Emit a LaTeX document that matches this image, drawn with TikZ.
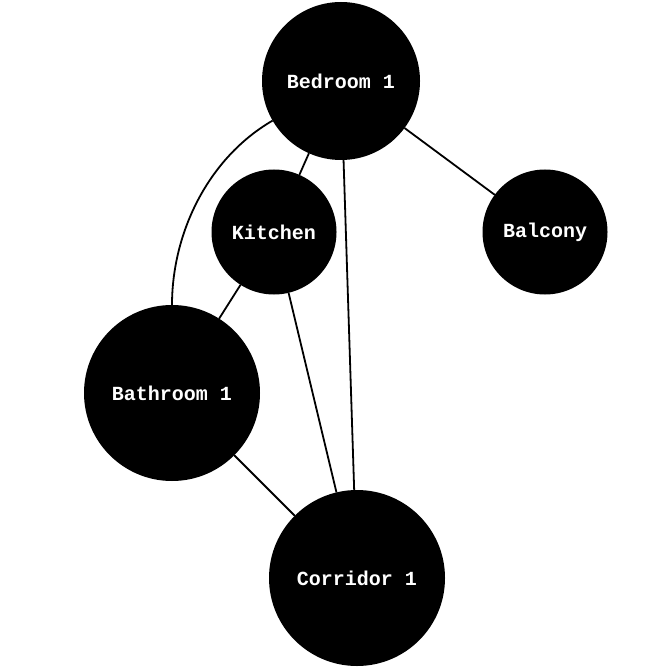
\documentclass[tikz,border=0pt]{standalone}
\usepackage{fontspec}
\setmonofont{Liberation Mono}
\begin{document}
\begin{tikzpicture}[x=1pt,y=-1pt,
  room/.style={circle,fill=black,draw=none,inner sep=0pt,outer sep=0pt,
    text=white,font=\ttfamily\bfseries\fontsize{20}{24}\selectfont},
  link/.style={line width=1.8pt,black}]
\useasboundingbox (0,0) rectangle (668,668);
\node[room,minimum size=158pt] (bed) at (341,81) {Bedroom 1};
\node[room,minimum size=125pt] (kit) at (274,232) {Kitchen};
\node[room,minimum size=125pt] (bal) at (545,232) {Balcony};
\node[room,minimum size=176pt] (bath) at (172,393) {Bathroom 1};
\node[room,minimum size=176pt] (cor) at (357,578) {Corridor 1};
\draw[link] (bed) -- (kit);
\draw[link] (bed) -- (bal);
\draw[link] (bed) -- (cor);
\draw[link] (bed) .. controls (208,158) and (172,233) .. (bath);
\draw[link] (kit) -- (bath);
\draw[link] (kit) -- (cor);
\draw[link] (bath) -- (cor);
\end{tikzpicture}
\end{document}
